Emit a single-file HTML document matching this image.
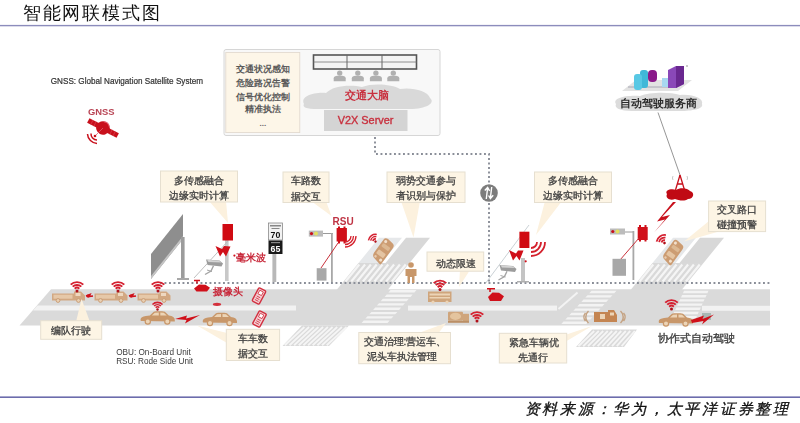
<!DOCTYPE html>
<html><head><meta charset="utf-8">
<style>
html,body{margin:0;padding:0;background:#fff;width:800px;height:423px;overflow:hidden}
svg{display:block;filter:blur(0.4px)}
text{font-family:"Liberation Sans",sans-serif}
.t{fill:#5a5a5a;font-size:9.1px;font-weight:bold}
.ct{fill:#3e3e3e;font-size:10px;font-weight:normal;stroke:#3e3e3e;stroke-width:0.3}
.cb{fill:#fdf5e5;stroke:#e6dfd0;stroke-width:1}
.tl{fill:#fcf1de}
.rd{fill:#c8101c}
.tan{fill:#c49468}
.dot{stroke:#8a8e98;stroke-width:1.9;stroke-dasharray:1.9 2.6;fill:none}
</style></head>
<body>
<svg width="800" height="423" viewBox="0 0 800 423">
<defs>
  <!-- wifi icon: dot at 0,0 -->
  <g id="wifi">
    <path d="M-2.3 -2.3 A3.3 3.3 0 0 1 2.3 -2.3 M-4.3 -4.3 A6.1 6.1 0 0 1 4.3 -4.3 M-6.3 -6.3 A8.9 8.9 0 0 1 6.3 -6.3" fill="none" stroke="#d42030" stroke-width="1.9"/>
    <circle cx="0" cy="0" r="1.5" fill="#b0101a"/>
  </g>
  <!-- sedan, origin top-left, 35x12 -->
  <g id="car">
    <path d="M1 10 C0 7 2 5.5 6 5 L10 4.6 L14 0.8 C16 0.2 22 0.2 25 0.8 L29 4.6 C33 5 35 6.5 35 9 L35 10.5 Z" fill="#c8976a"/>
    <path d="M12 4.6 L15 1.8 L19 1.6 L19 4.6 Z M20.5 4.6 L20.5 1.6 L24 1.8 L27 4.6 Z" fill="#ecd4b6"/>
    <circle cx="8" cy="10.6" r="2.6" fill="#ecd4b6" stroke="#c8976a" stroke-width="1.2"/>
    <circle cx="27.5" cy="10.6" r="2.6" fill="#ecd4b6" stroke="#c8976a" stroke-width="1.2"/>
  </g>
  <!-- truck 33x11 -->
  <g id="truck">
    <path d="M0 3 L22 3 L22 1 L29 1 L33 5 L33 10 L0 10 Z" fill="#d2a882"/>
    <rect x="1.5" y="4.2" width="19" height="4" fill="#e6c8a8"/>
    <rect x="23.5" y="2.5" width="5" height="3" fill="#eed8c0"/>
    <circle cx="6" cy="10" r="1.9" fill="#e8d0b4" stroke="#c89a70" stroke-width="0.9"/>
    <circle cx="26.5" cy="10" r="1.9" fill="#e8d0b4" stroke="#c89a70" stroke-width="0.9"/>
  </g>
  <!-- people icon -->
  <g id="ppl">
    <circle cx="0" cy="2.8" r="2.7" fill="#b0b0b0"/>
    <path d="M-6 11 L-6 8 C-6 6 -4 5.4 0 5.4 C4 5.4 6 6 6 8 L6 11 Z" fill="#b0b0b0"/>
  </g>
  <!-- red device box -->
  <g id="dev">
    <rect x="0" y="0" width="10.5" height="16.5" fill="#d00a12"/>
  </g>
  <!-- waves (right) -->
  <g id="waves" fill="none" stroke="#d4202c" stroke-width="1.8">
    <path d="M6 0 A6 6 0 0 1 0 6"/>
    <path d="M10 0 A10 10 0 0 1 0 10"/>
    <path d="M14 0 A14 14 0 0 1 0 14"/>
  </g>
</defs>

<!-- header -->
<text x="22.8" y="19.2" style="font-size:17.9px;letter-spacing:1.8px;fill:#111">智能网联模式图</text>
<rect x="0" y="24.9" width="800" height="1.4" fill="#8c8cbc"/>
<!-- footer -->
<rect x="0" y="396.4" width="800" height="1.6" fill="#6c6cac"/>
<text x="524.5" y="414.2" style="font-style:italic;font-size:15px;letter-spacing:2.75px;fill:#111;stroke:#111;stroke-width:0.3">资料来源：华为，太平洋证券整理</text>

<!-- GNSS -->
<text x="50.8" y="84.4" style="font-size:8.15px;fill:#333;stroke:#333;stroke-width:0.2">GNSS: Global Navigation Satellite System</text>
<text x="88" y="114.9" style="font-size:9.4px;font-weight:bold;fill:#b84454">GNSS</text>
<g transform="translate(103,128) rotate(27)">
  <rect x="-16.5" y="-2.6" width="11" height="5.2" fill="#c8101c"/>
  <rect x="5.5" y="-2.6" width="11" height="5.2" fill="#c8101c"/>
  <path d="M-12.5 -2.6 L-12.5 2.6 M-9 -2.6 L-9 2.6 M9 -2.6 L9 2.6 M12.5 -2.6 L12.5 2.6" stroke="#e05060" stroke-width="0.5"/>
  <circle cx="0" cy="0" r="6.8" fill="#c8101c"/>
  <path d="M-2 -6 A6 6 0 0 1 5 -4" fill="none" stroke="#e86070" stroke-width="1"/>
</g>
<line x1="103" y1="128" x2="95" y2="136" stroke="#e06070" stroke-width="0.8"/>
<circle cx="95" cy="136" r="1.3" fill="#c8101c"/>
<path d="M91 133.5 A6 6 0 0 0 97 140 M87.5 134 A10 10 0 0 0 97 143.5" fill="none" stroke="#c8101c" stroke-width="1.5"/>
<!-- top server box -->
<rect x="224" y="49.5" width="216" height="86" rx="2" fill="#f8f8f8" stroke="#d6d6d6" stroke-width="1"/>
<rect x="225.8" y="52.4" width="74" height="80.2" fill="#fdf6e8" stroke="#e0d8cc" stroke-width="0.8"/>
<g class="t" text-anchor="middle">
<text x="262.9" y="72.3">交通状况感知</text>
<text x="262.9" y="86.1">危险路况告警</text>
<text x="262.9" y="99.5">信号优化控制</text>
<text x="262.9" y="111.5">精准执法</text>
<text x="262.9" y="126.3" style="font-size:8px;font-weight:bold;fill:#666">...</text>
</g>
<!-- cloud -->
<path d="M304 104 C300 96 314 92 326 93 C332 86 350 84 362 87 C372 83 392 84 400 89 C412 87 428 91 430 98 C436 103 426 109 410 109 L318 109 C306 109 302 107 304 104Z" fill="#d9d9d9"/>
<!-- rack -->
<rect x="313.5" y="55" width="103" height="14" fill="#f4f4f4" stroke="#555" stroke-width="1.6"/>
<line x1="313.5" y1="62" x2="416.5" y2="62" stroke="#777" stroke-width="0.8"/>
<line x1="347" y1="55" x2="347" y2="69" stroke="#666" stroke-width="1"/>
<line x1="382" y1="55" x2="382" y2="69" stroke="#666" stroke-width="1"/>
<use href="#ppl" x="339.7" y="70.3"/>
<use href="#ppl" x="357.8" y="70.3"/>
<use href="#ppl" x="375.9" y="70.3"/>
<use href="#ppl" x="393.3" y="70.3"/>
<text x="367.2" y="99.3" text-anchor="middle" style="font-size:11px;font-weight:bold;fill:#c8303e">交通大脑</text>
<rect x="324" y="110" width="83.5" height="21" fill="#d4d4d4"/>
<text x="365.6" y="124.4" text-anchor="middle" style="font-size:10.9px;fill:#c8303e;stroke:#c8303e;stroke-width:0.35">V2X Server</text>

<!-- dotted network lines -->
<path class="dot" d="M375 137 L375 154 L489 154 L489 282"/>
<!-- gray circle icon -->
<circle cx="489" cy="193" r="8.8" fill="#7c7c7c"/>
<path d="M486.3 199 L487.6 188 M484.8 190.5 L487.6 187.5 L489.6 190.8 M491.7 187 L490.4 198 M488.6 195.5 L490.4 198.5 L493.2 195.2" stroke="#fff" stroke-width="1.4" fill="none"/>

<!-- ROAD -->
<path d="M51 289.2 L770 289.2 L770 325.6 L19.5 325.6 Z" fill="#dadada"/>
<!-- center lines -->
<path d="M37.5 305.6 L296 305.6 L296 310.6 L33 310.6 Z" fill="#f2f2f2"/>
<rect x="408" y="305.6" width="149" height="5" fill="#f2f2f2"/>
<rect x="702" y="305.8" width="68" height="5" fill="#f2f2f2"/>

<!-- diagonal roads -->
<path d="M379 237.7 L402 237.7 L381.5 263 L358.5 263 Z" fill="#e6e8ea"/>
<path d="M406 237.7 L430 237.7 L409.5 263 L385.5 263 Z" fill="#d8d8d8"/>
<path d="M358.5 263 L409.5 263 L387.6 290 L336.6 290 Z" fill="#d9d9d9"/>
<path d="M345.5 281.5 L359.3 264.5 M351.3 281.5 L365.1 264.5 M357.1 281.5 L370.9 264.5 M362.9 281.5 L376.7 264.5 M368.7 281.5 L382.5 264.5 M374.5 281.5 L388.3 264.5 M380.3 281.5 L394.1 264.5 M386.1 281.5 L399.9 264.5 M391.9 281.5 L405.7 264.5" stroke="#f5f5f5" stroke-width="2.2"/>
<path d="M302 325.5 L349 325.5 L329 346 L282.5 346 Z" fill="#dadada"/>
<path d="M284.8 345.2 L304.4 327.0 M289.5 345.2 L309.1 327.0 M294.1 345.2 L313.8 327.0 M298.8 345.2 L318.4 327.0 M303.4 345.2 L323.1 327.0 M308.1 345.2 L327.9 327.0 M312.7 345.2 L332.6 327.0 M317.4 345.2 L337.2 327.0 M322.0 345.2 L341.9 327.0 M326.7 345.2 L346.6 327.0" stroke="#f5f5f5" stroke-width="1.9"/>
<path d="M673 237.7 L696 237.7 L675.5 263 L652.5 263 Z" fill="#e6e8ea"/>
<path d="M700 237.7 L724 237.7 L703.5 263 L679.5 263 Z" fill="#d8d8d8"/>
<path d="M652.5 263 L703.5 263 L681.6 290 L630.6 290 Z" fill="#d9d9d9"/>
<path d="M639.5 281.5 L653.3 264.5 M645.3 281.5 L659.1 264.5 M651.1 281.5 L664.9 264.5 M656.9 281.5 L670.7 264.5 M662.7 281.5 L676.5 264.5 M668.5 281.5 L682.3 264.5 M674.3 281.5 L688.1 264.5 M680.1 281.5 L693.9 264.5 M685.9 281.5 L699.7 264.5" stroke="#f5f5f5" stroke-width="2.2"/>
<path d="M592 329.5 L637 329.5 L624 347 L576 347 Z" fill="#dadada"/>
<path d="M578.4 346.2 L594.2 331.0 M583.2 346.2 L598.8 331.0 M588.0 346.2 L603.2 331.0 M592.8 346.2 L607.8 331.0 M597.6 346.2 L612.2 331.0 M602.4 346.2 L616.8 331.0 M607.2 346.2 L621.2 331.0 M612.0 346.2 L625.8 331.0 M616.8 346.2 L630.2 331.0 M621.6 346.2 L634.8 331.0" stroke="#f5f5f5" stroke-width="1.9"/>
<!-- crosswalk stripes on main road -->
<g fill="#f3f3f3">
<path d="M390.5 290.1 L416.5 290.1 L414.4 292.5 L388.4 292.5 Z M386.7 294.5 L412.7 294.5 L410.6 296.9 L384.6 296.9 Z M382.8 298.8 L408.8 298.8 L406.7 301.2 L380.7 301.2 Z M379.0 303.2 L405.0 303.2 L402.9 305.6 L376.9 305.6 Z M375.2 307.5 L401.2 307.5 L399.1 309.9 L373.1 309.9 Z M371.4 311.9 L397.4 311.9 L395.2 314.2 L369.2 314.2 Z M367.5 316.2 L393.5 316.2 L391.4 318.6 L365.4 318.6 Z M363.7 320.6 L389.7 320.6 L387.6 322.9 L361.6 322.9 Z"/>
<path d="M591.5 290.8 L616.5 290.8 L614.3 293.2 L589.3 293.2 Z M587.5 295.2 L612.5 295.2 L610.3 297.6 L585.3 297.6 Z M583.5 299.6 L608.5 299.6 L606.3 302.0 L581.3 302.0 Z M579.5 304.0 L604.5 304.0 L602.3 306.4 L577.3 306.4 Z M575.5 308.4 L600.5 308.4 L598.3 310.8 L573.3 310.8 Z M571.5 312.8 L596.5 312.8 L594.3 315.2 L569.3 315.2 Z M567.5 317.2 L592.5 317.2 L590.3 319.6 L565.3 319.6 Z M563.5 321.6 L588.5 321.6 L586.3 324.0 L561.3 324.0 Z"/>
<path d="M684.0 290.8 L708.5 290.8 L707.4 293.2 L682.9 293.2 Z M682.1 295.0 L706.6 295.0 L705.5 297.4 L681.0 297.4 Z M680.1 299.2 L704.6 299.2 L703.5 301.6 L679.0 301.6 Z M678.2 303.4 L702.7 303.4 L701.6 305.8 L677.1 305.8 Z M676.3 307.6 L700.8 307.6 L699.7 310.0 L675.2 310.0 Z M674.3 311.8 L698.8 311.8 L697.7 314.2 L673.2 314.2 Z M672.4 316.0 L696.9 316.0 L695.8 318.4 L671.3 318.4 Z M670.5 320.2 L695.0 320.2 L693.9 322.6 L669.4 322.6 Z"/>
</g>
<path d="M558.5 309 L577.5 292.5" stroke="#f3f3f3" stroke-width="2"/>
<path class="dot" d="M160 283 L772 283"/>
<!-- billboard -->
<path d="M151 254 L183 214 L183 239 L151 279 Z" fill="#8e8e8e"/>
<path d="M151 276 L183 236 L183 239 L151 279 Z" fill="#c4c4c4"/>
<rect x="181" y="237" width="3.6" height="42" fill="#9c9c9c"/>
<rect x="177" y="278" width="12" height="2" fill="#a8a8a8"/>

<!-- device 1 with pole, radar, camera -->
<rect x="225" y="240" width="3.6" height="41" fill="#c8c8c8"/>
<use href="#dev" x="222.5" y="224"/>
<line x1="228" y1="241" x2="194" y2="278" stroke="#b8b8b8" stroke-width="0.9"/>
<path d="M215.5 246 L222 249 L224 246 L230.5 246.5 L226 256.5 L223 252 L220 256.5 Z" fill="#d0101a"/>
<circle cx="234.4" cy="255.6" r="1.1" fill="#d0101a"/>
<text x="236.4" y="261.2" style="font-size:10px;font-weight:bold;fill:#c8283a">毫米波</text>
<path d="M206 259.5 L219.5 260.5 L223 263.5 L221.5 266.5 L207.5 265 Z" fill="#9c9c9c"/>
<path d="M207 259.8 L219 260.7 L221.5 262.5 L208.5 262 Z" fill="#d4d4d4"/>
<path d="M213.5 265.8 L211 271 L205 274.5" stroke="#a4a4a4" stroke-width="1.4" fill="none"/>
<path d="M207 270 L212 271.5" stroke="#a4a4a4" stroke-width="1"/>
<!-- red camera -->
<path d="M194 288.5 L199 284.5 L205.5 284.8 L210 287.8 L207 291.6 L196.5 291.6 Z" fill="#d0101a"/>
<path d="M194 280.5 L200 280.5 M197 280.5 L197 283.5" stroke="#d0101a" stroke-width="1.4"/>
<text x="212.7" y="294.5" style="font-size:10px;font-weight:bold;fill:#c8283a">摄像头</text>
<!-- phones -->
<g transform="rotate(28 259 296)"><rect x="255" y="288.5" width="8" height="15" rx="1.2" fill="#f4d0d4" stroke="#d23040" stroke-width="1.4"/><rect x="257" y="290.5" width="4" height="4" fill="#fff" stroke="#d23040" stroke-width="0.8"/><path d="M257 297 h4 M257 299 h4 M257 301 h4" stroke="#d23040" stroke-width="0.8"/></g>
<g transform="rotate(28 259.5 319)"><rect x="255.5" y="311.5" width="8" height="15" rx="1.2" fill="#f4d0d4" stroke="#d23040" stroke-width="1.4"/><rect x="257.5" y="313.5" width="4" height="4" fill="#fff" stroke="#d23040" stroke-width="0.8"/><path d="M257.5 320 h4 M257.5 322 h4 M257.5 324 h4" stroke="#d23040" stroke-width="0.8"/></g>
<!-- speed sign -->
<rect x="272.4" y="253" width="3.9" height="29" fill="#b8b8b8"/>
<rect x="268.5" y="223" width="14" height="17" fill="#f2f2f2" stroke="#8a8a8a" stroke-width="0.8"/>
<rect x="268.5" y="240.5" width="14" height="13.5" fill="#1a1a1a"/>
<text x="275.5" y="238" text-anchor="middle" style="font-size:8.8px;font-weight:bold;fill:#111">70</text>
<text x="275.5" y="251.8" text-anchor="middle" style="font-size:8.8px;font-weight:bold;fill:#fff">65</text>
<rect x="270" y="225" width="11" height="1.5" fill="#888"/><rect x="271.5" y="228" width="8" height="1" fill="#888"/>
<rect x="271" y="242" width="9" height="1.2" fill="#888"/>

<!-- RSU 1 -->
<text x="332.5" y="224.5" style="font-size:10px;font-weight:bold;fill:#bf3444">RSU</text>
<rect x="308.8" y="230.6" width="14.2" height="6" fill="#bcbcbc"/>
<circle cx="311.5" cy="233.6" r="1.6" fill="#c8101c"/>
<circle cx="316" cy="233.6" r="2" fill="#e4e060"/>
<line x1="323" y1="233.5" x2="333" y2="233.5" stroke="#9a9a9a" stroke-width="1"/>
<rect x="331" y="233" width="1.8" height="49" fill="#a8a8a8"/>
<rect x="336.6" y="228" width="10.3" height="13.5" fill="#d0101a"/>
<rect x="338" y="226.5" width="2" height="17" fill="#d0101a"/><rect x="343.5" y="226.5" width="2" height="17" fill="#d0101a"/>
<line x1="338" y1="243" x2="321" y2="268" stroke="#c8303a" stroke-width="1"/>
<rect x="316.7" y="268.2" width="9.8" height="12.4" fill="#a8a8a8"/>
<path d="M351 236 A6 6 0 0 1 345 242 M353.5 236 A8.5 8.5 0 0 1 345 244.5 M356 236 A11 11 0 0 1 345 247" fill="none" stroke="#d4202c" stroke-width="1.3"/>

<!-- device 2 (middle) -->
<line x1="529" y1="225" x2="485" y2="284" stroke="#c4ccd0" stroke-width="0.9"/>
<rect x="521" y="258" width="4" height="24" fill="#c4c4c4"/>
<rect x="517" y="281" width="12" height="1.5" fill="#b0b0b0"/>
<rect x="519.4" y="231.7" width="10" height="16.3" fill="#d00a12"/>
<path d="M509 250 L516 253.5 L518 250.5 L523.5 250.5 L519.5 260.5 L516.5 256 L513 260.5 Z" fill="#d0101a"/>
<circle cx="525.7" cy="261.3" r="1.1" fill="#d0101a"/>
<g transform="translate(293.5,5.5)">
<path d="M206 259.5 L219.5 260.5 L223 263.5 L221.5 266.5 L207.5 265 Z" fill="#9c9c9c"/>
<path d="M207 259.8 L219 260.7 L221.5 262.5 L208.5 262 Z" fill="#d4d4d4"/>
<path d="M213.5 265.8 L211 271 L205 274.5" stroke="#a4a4a4" stroke-width="1.4" fill="none"/>
<path d="M207 270 L212 271.5" stroke="#a4a4a4" stroke-width="1"/>
</g>
<use href="#waves" x="531" y="242"/>
<!-- red camera 2 -->
<g transform="translate(293,8.5) scale(1)">
<path d="M195 288.5 L199.5 284 L206 284.3 L211 287.8 L208 292.5 L197 292.5 Z" fill="#d0101a"/>
<path d="M194 280.2 L202 280.2 M197 280.2 L197 283.5" stroke="#d0101a" stroke-width="1.5"/>
</g>

<!-- RSU 2 -->
<rect x="610" y="228.5" width="15" height="6" fill="#bcbcbc"/>
<circle cx="612.8" cy="231.5" r="1.6" fill="#c8101c"/>
<circle cx="617.5" cy="231.5" r="2" fill="#e4e060"/>
<line x1="625" y1="232" x2="634" y2="232" stroke="#9a9a9a" stroke-width="1"/>
<rect x="632.5" y="231" width="1.8" height="49" fill="#a8a8a8"/>
<rect x="637.7" y="227" width="10" height="13" fill="#d0101a"/>
<rect x="639" y="225" width="2" height="16.5" fill="#d0101a"/><rect x="644.5" y="225" width="2" height="16.5" fill="#d0101a"/>
<line x1="639" y1="238" x2="620" y2="260" stroke="#c8303a" stroke-width="1"/>
<rect x="612.5" y="258.8" width="13.5" height="17" fill="#a8a8a8"/>

<!-- tower -->
<path d="M680 175 L675.5 190 M680 175 L684.5 190 M677 184 L683 184" stroke="#c8101c" stroke-width="1.3" fill="none"/>
<path d="M667 194 C664 190 672 188 676 190 C680 187 688 188 690 191 C695 192 694 199 688 199 C684 202 678 200 675 199 C670 201 665 198 667 194 Z" fill="#c00a14"/>
<path d="M673 176 A4 4 0 0 0 673 180 M687 176 A4 4 0 0 1 687 180" stroke="#b0b0b0" stroke-width="0.7" fill="none"/>
<path d="M673 202 L657 221.5 L665 219.5 L654 232.5 L670 215 L662 217 L676 202 Z" fill="#c8101c"/>

<!-- server provider icons -->
<path d="M622 91 L636 80 L692 80 L678 91 Z" fill="#e2e2e2"/>
<line x1="628" y1="87" x2="672" y2="87" stroke="#9a9aa8" stroke-width="0.8"/>
<rect x="640" y="70" width="8" height="18" rx="3" fill="#40b8d8"/>
<rect x="634" y="74" width="8" height="16" rx="3" fill="#58c8e4"/>
<rect x="648" y="70" width="9" height="12" rx="4" fill="#8a1a8a"/>
<rect x="662" y="78" width="7" height="9" fill="#a8d8f0"/>
<path d="M668 70 L676 66 L684 66 L684 84 L676 88 L668 88 Z" fill="#8a48b8"/>
<path d="M676 66 L684 66 L684 84 L676 88 Z" fill="#6a2890"/>
<circle cx="687" cy="66" r="0.8" fill="#888"/>

<!-- vehicles -->
<use href="#truck" x="52" y="290.5"/>
<use href="#truck" x="94.5" y="290.5"/>
<use href="#truck" x="137.5" y="290.5"/>
<use href="#wifi" x="77" y="291"/>
<use href="#wifi" x="118" y="291"/>
<use href="#wifi" x="158" y="291"/>
<path d="M86 296 L90 294.5 L89 296.5 L93 296" stroke="#d0101a" stroke-width="1.6" fill="none"/>
<path d="M129 296 L133 294.5 L132 296.5 L136 296" stroke="#d0101a" stroke-width="1.6" fill="none"/>
<circle cx="88" cy="296" r="1.6" fill="#d0101a"/><circle cx="131" cy="296" r="1.6" fill="#d0101a"/>
<use href="#car" x="139.8" y="311"/>
<g transform="translate(157.5,309.5) scale(0.8)"><use href="#wifi"/></g>
<path d="M175 319 L187 315.5 L186 318.5 L200 315 L185 323.5 L186.5 320 Z" fill="#d0101a"/>
<use href="#car" x="202" y="312.5"/>
<ellipse cx="217" cy="304.3" rx="4.2" ry="1.6" fill="#d4303c"/>
<!-- bus -->
<g transform="translate(428,291.5)">
<rect x="0" y="0" width="23.5" height="10.5" fill="#cfa57c"/>
<rect x="1.5" y="2" width="20.5" height="2" fill="#ecd4b6"/><rect x="1.5" y="5.5" width="20.5" height="1.5" fill="#ecd4b6"/>
<circle cx="5" cy="10.5" r="1.6" fill="#ecd4b6"/><circle cx="19" cy="10.5" r="1.6" fill="#ecd4b6"/>
</g>
<use href="#wifi" x="440" y="289.5"/>
<!-- mixer -->
<g transform="translate(448,311.8)">
<rect x="0" y="0" width="15" height="9" rx="1" fill="#cfa57c"/>
<ellipse cx="7.5" cy="4.5" rx="5.5" ry="3.6" fill="#e4c49e"/>
<rect x="15" y="2" width="6" height="8" fill="#cfa57c"/>
<rect x="0" y="9" width="21" height="2" fill="#bb8f66"/>
</g>
<use href="#wifi" x="477" y="321"/>
<!-- ambulance -->
<g transform="translate(594,310)">
<path d="M0 2 L14 2 L14 0 L20 0 L23 5 L23 12 L0 12 Z" fill="#c48552"/>
<rect x="6" y="4" width="5" height="5" fill="#ecd4b6"/><rect x="16" y="2.5" width="4" height="3" fill="#ecd4b6"/>
</g>
<path d="M588.5 311 A8 8 0 0 0 588.5 323 M585.5 313 A6 6 0 0 0 585.5 321" stroke="#c4a282" stroke-width="1.5" fill="none"/>
<path d="M620.5 311 A8 8 0 0 1 620.5 323 M623.5 313 A6 6 0 0 1 623.5 321" stroke="#c4a282" stroke-width="1.5" fill="none"/>
<!-- coop car -->
<use href="#car" x="658" y="313"/>
<use href="#wifi" x="671.5" y="309"/>
<rect x="702" y="313" width="9" height="7" fill="#a8b8b4"/>
<path d="M691 320 L704 315.5 L702.5 319 L714 314.5 L702 324.5 L703.5 321 L692 323 Z" fill="#d0101a"/>
<!-- diagonal cars -->
<g transform="translate(383,251) rotate(-54) scale(0.97)"><g id="topcar"><path d="M-13 5 L-11 -4 C-10 -6 -8 -6.5 -6 -6.5 L10 -6.5 C12 -6.5 13 -5 13 -3 L12 4 C11.5 6 10 6.5 8 6.5 L-11 6.5 C-12.5 6.5 -13.2 6 -13 5 Z" fill="#cc9c72"/>
<rect x="-6" y="-4.5" width="5" height="9" rx="1" fill="#e4c4a2"/><rect x="3" y="-4.5" width="4" height="9" rx="1" fill="#dcb892"/>
<circle cx="-9" cy="3.5" r="1.6" fill="#f2e0cc"/><circle cx="9.5" cy="-3.5" r="1.6" fill="#f2e0cc"/><circle cx="-9" cy="-3" r="1.3" fill="#e8ccb0"/></g></g>
<g transform="translate(375.5,241.5) rotate(-35) scale(0.8)"><use href="#wifi"/></g>
<g transform="translate(672.8,252.3) rotate(-54) scale(0.95)"><use href="#topcar"/></g>
<g transform="translate(664.5,243) rotate(-35) scale(0.9)"><use href="#wifi"/></g>
<!-- person -->
<g fill="#c8976a">
<circle cx="411" cy="265" r="2.8"/>
<path d="M405.5 269 L416.5 269 L416.5 276 L414.5 276 L414.5 283 L412 283 L412 277 L410 277 L410 283 L407.5 283 L407.5 276 L405.5 276 Z"/>
</g>

<!-- callouts -->
<g>
<path class="tl" d="M209 201 L226 201 L228 223 Z"/>
<rect class="cb" x="160.5" y="171" width="77" height="31"/>
<path class="tl" d="M311 201 L326 201 L331.5 216 Z"/>
<rect class="cb" x="283" y="172" width="46" height="30.5"/>
<path class="tl" d="M401 201 L420 201 L413.5 237.5 Z"/>
<rect class="cb" x="387" y="172" width="78" height="30.5"/>
<path class="tl" d="M545 201 L562 201 L536 235 Z"/>
<rect class="cb" x="534.5" y="172" width="77" height="30.5"/>
<path class="tl" d="M709 221 L719 231.5 L684 241.5 Z"/>
<rect class="cb" x="708.6" y="201" width="57" height="30.6"/>
<path class="tl" d="M460 270 L470 270 L459 287 Z"/>
<rect class="cb" x="427" y="252" width="56.7" height="19.2"/>
<path class="tl" d="M76 322 L90 322 L81.5 299 Z"/>
<rect class="cb" x="40.7" y="320.7" width="61" height="18.6"/>
<path class="tl" d="M227 333 L227 343 L197 325.5 Z"/>
<rect class="cb" x="226.3" y="329.3" width="53.3" height="31.2"/>
<path class="tl" d="M416 334 L438 334 L446 323 Z"/>
<rect class="cb" x="358.8" y="332.5" width="91.7" height="31.2"/>
<path class="tl" d="M565 335 L565 342 L592 326 Z"/>
<rect class="cb" x="499.3" y="333.3" width="67.4" height="29.7"/>
</g>
<g class="ct" text-anchor="middle">
<text x="199" y="183.8">多传感融合</text>
<text x="199" y="198.8">边缘实时计算</text>
<text x="306" y="183.8">车路数</text>
<text x="306" y="199.8">据交互</text>
<text x="426" y="183.5">弱势交通参与</text>
<text x="426" y="199.3">者识别与保护</text>
<text x="573" y="183.8">多传感融合</text>
<text x="573" y="198.8">边缘实时计算</text>
<text x="737" y="213.3">交叉路口</text>
<text x="737" y="228.2">碰撞预警</text>
<text x="455.7" y="266.5">动态限速</text>
<text x="70.8" y="333.8">编队行驶</text>
<text x="252.5" y="342.3">车车数</text>
<text x="252.5" y="357.3">据交互</text>
<text x="405" y="344.8">交通治理:营运车、</text>
<text x="401.5" y="360.3">泥头车执法管理</text>
<text x="533.5" y="345.8">紧急车辆优</text>
<text x="533" y="360.8">先通行</text>
</g>

<!-- OBU/RSU legend -->
<text x="116.2" y="355.3" style="font-size:8.2px;fill:#3a3a3a">OBU: On-Board Unit</text>
<text x="116.2" y="364.3" style="font-size:8.2px;fill:#3a3a3a">RSU: Rode Side Unit</text>

<!-- 协作式自动驾驶 -->
<text x="657.5" y="342" style="font-size:11px;fill:#3a3a3a;stroke:#3a3a3a;stroke-width:0.3">协作式自动驾驶</text>

<!-- top right: service provider -->
<path d="M616 104 C612 98 626 95 640 96 C650 92 670 92 680 95 C694 94 704 99 702 104 C704 109 692 111 680 111 L632 111 C620 111 614 108 616 104Z" fill="#dcdcdc"/>
<text x="658" y="106.8" text-anchor="middle" style="font-size:10.5px;font-weight:bold;fill:#2a2a2a">自动驾驶服务商</text>
<line x1="658" y1="112.5" x2="680" y2="175" stroke="#8a8a8a" stroke-width="0.9"/>

</svg>
</body></html>
